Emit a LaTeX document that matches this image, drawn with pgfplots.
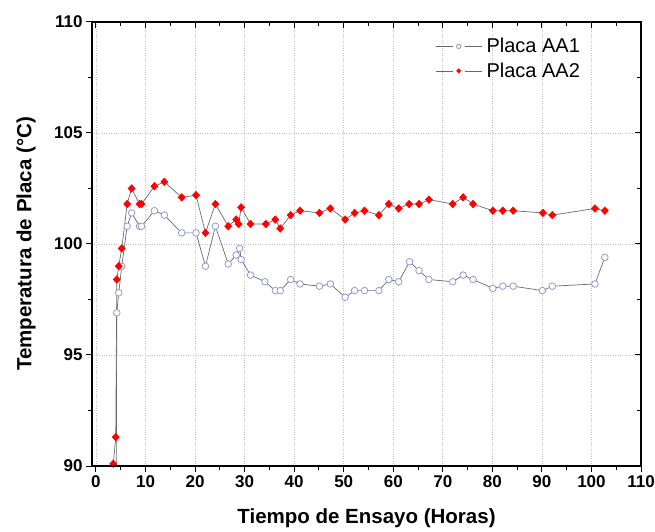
\documentclass[border=0pt]{standalone}
\usepackage{fontspec}
\setmainfont{Liberation Sans}
\usepackage{pgfplots}
\pgfplotsset{compat=1.18}

\definecolor{lineg}{RGB}{105,105,105}
\definecolor{aa1}{RGB}{150,150,220}
\definecolor{gridg}{RGB}{195,195,195}

\pgfplotsset{
  frame/.style={
    scale only axis, width=549pt, height=444pt,
    xmin=-0.8, xmax=110, ymin=90, ymax=110,
    xtick={0,10,...,110}, ytick={90,95,...,110},
    minor x tick num=1, minor y tick num=1,
    axis line style={line width=1.1pt},
    major tick length=6pt, minor tick length=4pt,
    every tick/.style={black, line width=1pt},
  }
}

\begin{document}
\begin{tikzpicture}
\path[use as bounding box] (-92pt,-66pt) rectangle (563pt,466pt);
\begin{axis}[frame,
  tick align=outside, xtick pos=left, ytick pos=left,
  grid=major, major grid style={gridg, dotted, line width=0.8pt},
  tick label style={font=\fontsize{17}{19}\bfseries\selectfont},
  /pgf/number format/assume math mode=true,
  xlabel={Tiempo de Ensayo (Horas)},
  ylabel={Temperatura de Placa (°C)},
  label style={font=\fontsize{20.5}{24}\bfseries\selectfont},
  xlabel style={at={(axis description cs:0.5,-0.117)}, anchor=center},
  ylabel style={at={(axis description cs:-0.12,0.5)}, anchor=center},
  legend style={draw=none, fill=none, at={(axis description cs:0.625,0.968)},
    anchor=north west, font=\fontsize{20}{24}\selectfont,
    row sep=4.5pt, inner sep=0pt,
    nodes={inner xsep=4.5pt}},
  legend cell align=left,
  legend image code/.code={
    \draw[#1] (0pt,0pt) -- (17pt,0pt);
    \draw[#1] (29pt,0pt) -- (46pt,0pt);
    \draw[#1, mark size=2.2pt] plot coordinates {(23pt,0pt)};
  },
]
% Placa AA1
\addplot[lineg, line width=0.7pt, mark=*, mark size=3.3pt,
  mark options={draw=aa1, fill=white, line width=0.8pt}] coordinates {
  (4.1,89.3) (4.2,96.9) (4.6,97.8) (5.2,99.0) (6.3,100.8) (7.2,101.4)
  (8.8,100.8) (9.2,100.8) (11.8,101.5) (13.8,101.3) (17.3,100.5)
  (20.2,100.5) (22.1,99.0) (24.1,100.8) (26.7,99.1) (28.3,99.5)
  (29.0,99.8) (29.3,99.3) (31.2,98.6) (34.1,98.3) (36.2,97.9)
  (37.2,97.9) (39.3,98.4) (41.2,98.2) (45.1,98.1) (47.3,98.2)
  (50.3,97.6) (52.2,97.9) (54.2,97.9) (57.1,97.9) (59.1,98.4)
  (61.1,98.3) (63.3,99.2) (65.2,98.8) (67.2,98.4) (72.0,98.3)
  (74.1,98.6) (76.1,98.4) (80.1,98.0) (82.1,98.1) (84.2,98.1)
  (90.1,97.9) (92.1,98.1) (100.7,98.2) (102.7,99.4)
};
\addlegendentry{Placa AA1}
% Placa AA2
\addplot[lineg, line width=0.7pt, mark=diamond*, mark size=3.8pt,
  mark options={draw=red, fill=red, line width=0.5pt, xscale=1.25}] coordinates {
  (3.5,90.1) (4.0,91.3) (4.2,98.4) (4.6,99.0) (5.2,99.8) (6.3,101.8)
  (7.2,102.5) (8.8,101.8) (9.2,101.8) (11.8,102.6) (13.8,102.8)
  (17.3,102.1) (20.2,102.2) (22.1,100.5) (24.1,101.8) (26.7,100.8)
  (28.3,101.1) (28.8,100.9) (29.3,101.65) (31.2,100.9) (34.3,100.9)
  (36.2,101.1) (37.2,100.7) (39.3,101.3) (41.2,101.5) (45.1,101.4)
  (47.3,101.6) (50.3,101.1) (52.2,101.4) (54.2,101.5) (57.1,101.3)
  (59.1,101.8) (61.1,101.6) (63.2,101.8) (65.2,101.8) (67.2,102.0)
  (72.0,101.8) (74.1,102.1) (76.1,101.8) (80.1,101.5) (82.1,101.5)
  (84.2,101.5) (90.2,101.4) (92.1,101.3) (100.7,101.6) (102.7,101.5)
};
\addlegendentry{Placa AA2}
\end{axis}
% top and right ticks point inward
\begin{axis}[frame, tick align=inside, xtick pos=right, ytick pos=right,
  xticklabels={}, yticklabels={}]
\end{axis}
\end{tikzpicture}
\end{document}
